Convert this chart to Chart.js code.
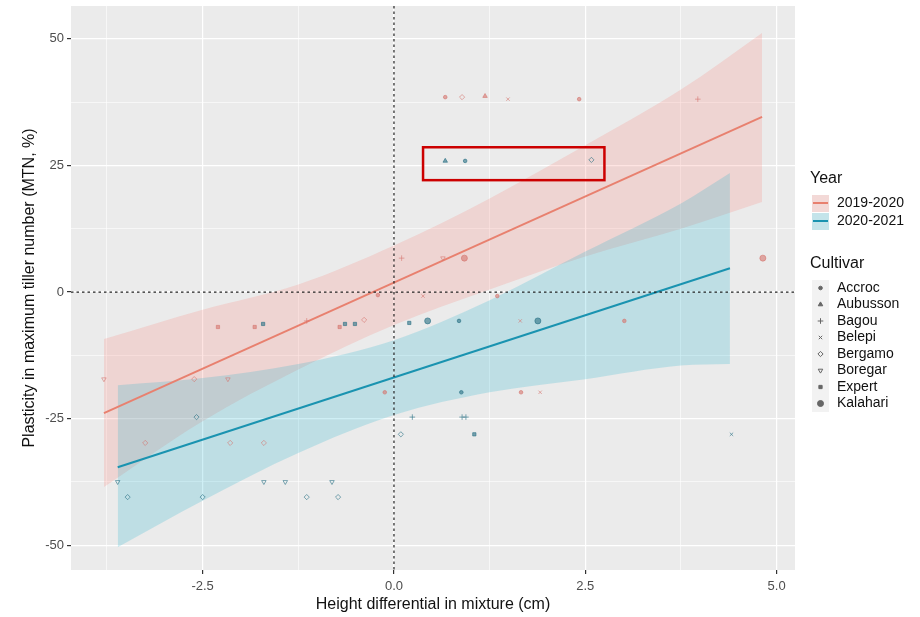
<!DOCTYPE html>
<html>
<head>
<meta charset="utf-8">
<script src="https://cdn.jsdelivr.net/npm/chart.js@4.4.1/dist/chart.umd.min.js"></script>
<style>
  body { margin: 0; background: #fff; }
  #plot { display: block; }
</style>
</head>
<body>
<canvas id="plot" width="920" height="617"></canvas>
<script>
// legend groups
const years = ['2019-2020', '2020-2021'];
const cultivars = ['Accroc', 'Aubusson', 'Bagou', 'Belepi', 'Bergamo', 'Boregar', 'Expert', 'Kalahari'];

// points, 2019-2020
const x2019 = [0.67, 0.89, 1.19, 1.49, 2.42, 3.97, 0.10, 0.64, 0.92, 4.82, -0.21, 0.38, 1.35,
  -2.30, -1.82, -1.14, -0.71, -0.39, -3.79, -2.61, -2.17, -3.25, -2.14, -1.70, 1.65, 3.01, 1.66, 1.91, -0.12];
const y2019 = [38.5, 38.5, 38.7, 38.1, 38.1, 38.1, 6.7, 6.7, 6.7, 6.7, -0.6, -0.8, -0.8,
  -6.9, -6.9, -5.7, -6.9, -5.5, -17.2, -17.2, -17.2, -29.8, -29.8, -29.8, -5.7, -5.7, -19.8, -19.8, -19.8];
const cv2019 = ['Accroc', 'Bergamo', 'Aubusson', 'Belepi', 'Accroc', 'Bagou', 'Bagou', 'Boregar', 'Kalahari', 'Kalahari', 'Accroc', 'Belepi', 'Accroc',
  'Expert', 'Expert', 'Bagou', 'Expert', 'Bergamo', 'Boregar', 'Bergamo', 'Boregar', 'Bergamo', 'Bergamo', 'Bergamo', 'Belepi', 'Accroc', 'Accroc', 'Belepi', 'Accroc'];

// points, 2020-2021
const x2020 = [0.67, 0.93, 2.58, -1.71, -0.64, -0.51, 0.20, 0.44, 1.88, 0.85,
  -2.58, 0.24, 0.89, 0.94, 0.09, 1.05, 4.41, 0.88, -3.61, -1.70, -1.42, -0.81, -3.48, -2.50, -1.14, -0.73];
const y2020 = [25.9, 25.9, 26.1, -6.3, -6.3, -6.3, -6.1, -5.7, -5.7, -5.7,
  -24.7, -24.7, -24.7, -24.7, -28.1, -28.1, -28.1, -19.8, -37.5, -37.5, -37.5, -37.5, -40.5, -40.5, -40.5, -40.5];
const cv2020 = ['Aubusson', 'Accroc', 'Bergamo', 'Expert', 'Expert', 'Expert', 'Expert', 'Kalahari', 'Kalahari', 'Accroc',
  'Bergamo', 'Bagou', 'Bagou', 'Bagou', 'Bergamo', 'Expert', 'Belepi', 'Accroc', 'Boregar', 'Boregar', 'Boregar', 'Boregar', 'Bergamo', 'Bergamo', 'Bergamo', 'Bergamo'];

// fitted lines
const fitX2019 = [-3.79, 4.81];
const fitY2019 = [-23.9, 34.6];
const fitX2020 = [-3.61, 4.39];
const fitY2020 = [-34.6, 4.7];

// confidence bands
const bandX2019 = [-3.79, -2.5, -1.25, 0, 1.25, 2.5, 3.75, 4.81];
const bandHi2019 = [-9.3, -3.5, 1.5, 9.2, 18.5, 29, 40, 51.2];
const bandLo2019 = [-38.5, -25.5, -15.3, -6.5, 0.5, 7, 12.5, 17.8];
const bandX2020 = [-3.61, -2.5, -1.25, 0, 1.25, 2.5, 3.75, 4.39];
const bandHi2020 = [-18.4, -17, -14.2, -9.5, -1.6, 8, 17.5, 23.5];
const bandLo2020 = [-50.4, -41.2, -31.8, -24.3, -19.8, -17.2, -14.5, -14.2];

// axes
const xGrid = [-3.75, -2.5, -1.25, 0, 1.25, 2.5, 3.75, 5];
const xLabels = [-2.5, 0, 2.5, 5];
const yGrid = [-50, -37.5, -25, -12.5, 0, 12.5, 25, 37.5, 50];
const yLabels = [-50, -25, 0, 25, 50];
const xRange = [-4.22, 5.24];
const yRange = [-54.9, 56.5];

// highlighted area (red box)
const boxX = [0.38, 2.75];
const boxY = [22.1, 28.6];

const FONT = "'Liberation Sans', Arial, sans-serif";
const shapes = ['circle', 'triangle', 'cross', 'crossRot', 'rectRot', 'triangle', 'rect', 'circle'];
const shapeRot = [0, 0, 0, 0, 0, 180, 0, 0];
const shapeSize = [1.8, 2.6, 2.8, 2.4, 2.6, 2.6, 2.3, 3.0];
const shapeFilled = [true, true, false, false, false, false, true, true];

const redFill = 'rgba(248,118,109,0.2)';
const blueFill = 'rgba(0,170,200,0.19)';
const redLine = '#E8806F';
const blueLine = '#1A93B0';
const redCol = 'rgba(214,118,112,0.6)';
const blueCol = 'rgba(40,112,132,0.6)';

function pts(xs, ys) {
  return xs.map((x, i) => ({ x: x, y: ys[i] }));
}

function pointDataset(label, xs, ys, cvs, color) {
  const idx = cvs.map(c => cultivars.indexOf(c));
  return {
    label: label,
    data: pts(xs, ys),
    showLine: false,
    order: 0,
    pointStyle: ctx => shapes[idx[ctx.dataIndex]],
    rotation: ctx => shapeRot[idx[ctx.dataIndex]],
    pointRadius: ctx => shapeSize[idx[ctx.dataIndex]],
    pointBorderWidth: 1,
    pointBorderColor: color,
    pointBackgroundColor: ctx => shapeFilled[idx[ctx.dataIndex]] ? color : 'rgba(0,0,0,0)',
    pointHoverRadius: 0
  };
}

function bandDataset(xs, ys, fill, color, order) {
  return {
    data: pts(xs, ys),
    showLine: true,
    borderWidth: 0,
    borderColor: 'rgba(0,0,0,0)',
    pointRadius: 0,
    cubicInterpolationMode: 'monotone',
    fill: fill,
    backgroundColor: color,
    order: order
  };
}

function lineDataset(xs, ys, color) {
  return {
    data: pts(xs, ys),
    showLine: true,
    borderWidth: 2,
    borderColor: color,
    pointRadius: 0,
    fill: false,
    order: 1
  };
}

const panelBg = {
  id: 'panelBg',
  beforeDraw(chart) {
    const a = chart.chartArea;
    const ctx = chart.ctx;
    ctx.save();
    ctx.fillStyle = '#EBEBEB';
    ctx.fillRect(a.left, a.top, a.right - a.left, a.bottom - a.top);
    ctx.restore();
  }
};

const extras = {
  id: 'extras',
  afterDatasetsDraw(chart) {
    const ctx = chart.ctx;
    const xs = chart.scales.x, ys = chart.scales.y;
    const a = chart.chartArea;
    ctx.save();
    // dotted zero lines
    ctx.strokeStyle = '#222';
    ctx.lineWidth = 1.2;
    ctx.setLineDash([2.5, 3]);
    ctx.beginPath();
    const x0 = xs.getPixelForValue(0), y0 = ys.getPixelForValue(0);
    ctx.moveTo(x0, a.top); ctx.lineTo(x0, a.bottom);
    ctx.moveTo(a.left, y0); ctx.lineTo(a.right, y0);
    ctx.stroke();
    ctx.setLineDash([]);
    // red box
    ctx.strokeStyle = '#CC0000';
    ctx.lineWidth = 2.5;
    const l = xs.getPixelForValue(boxX[0]), r = xs.getPixelForValue(boxX[1]);
    const t = ys.getPixelForValue(boxY[1]), b = ys.getPixelForValue(boxY[0]);
    ctx.strokeRect(l, t, r - l, b - t);
    ctx.restore();
  },
  afterDraw(chart) {
    const ctx = chart.ctx;
    ctx.save();
    ctx.textBaseline = 'middle';
    ctx.textAlign = 'left';
    ctx.fillStyle = '#111';
    ctx.font = '16px ' + FONT;
    ctx.fillText('Year', 810, 179);
    const yearFill = [redFill, blueFill];
    const yearLine = [redLine, blueLine];
    years.forEach((yr, i) => {
      const cy = 203 + i * 18;
      ctx.fillStyle = '#F2F2F2';
      ctx.fillRect(812, cy - 8, 17, 17);
      ctx.fillStyle = yearFill[i];
      ctx.fillRect(812, cy - 8, 17, 17);
      ctx.strokeStyle = yearLine[i];
      ctx.lineWidth = 2;
      ctx.beginPath();
      ctx.moveTo(813, cy); ctx.lineTo(828, cy);
      ctx.stroke();
      ctx.fillStyle = '#111';
      ctx.font = '14px ' + FONT;
      ctx.fillText(yr, 837, cy);
    });
    ctx.font = '16px ' + FONT;
    ctx.fillText('Cultivar', 810, 264);
    ctx.fillStyle = '#F2F2F2';
    ctx.fillRect(812, 280, 17, cultivars.length * 16.5);
    cultivars.forEach((cv, i) => {
      const cy = 288 + i * 16.5;
      const opts = {
        pointStyle: shapes[i], rotation: shapeRot[i], radius: shapeSize[i], borderWidth: 1
      };
      ctx.strokeStyle = '#666';
      ctx.fillStyle = shapeFilled[i] ? '#666' : 'rgba(0,0,0,0)';
      ctx.lineWidth = 1;
      if (Chart.helpers && Chart.helpers.drawPoint) {
        Chart.helpers.drawPoint(ctx, opts, 820.5, cy);
      } else {
        ctx.beginPath(); ctx.arc(820.5, cy, 2, 0, Math.PI * 2); ctx.fill();
      }
      ctx.fillStyle = '#111';
      ctx.font = '14px ' + FONT;
      ctx.fillText(cv, 837, cy);
    });
    ctx.restore();
  }
};

new Chart(document.getElementById('plot'), {
  type: 'scatter',
  data: {
    datasets: [
      pointDataset('2019-2020', x2019, y2019, cv2019, redCol),
      pointDataset('2020-2021', x2020, y2020, cv2020, blueCol),
      lineDataset(fitX2019, fitY2019, redLine),
      lineDataset(fitX2020, fitY2020, blueLine),
      bandDataset(bandX2019, bandHi2019, '+1', redFill, 4),
      bandDataset(bandX2019, bandLo2019, false, 'rgba(0,0,0,0)', 4),
      bandDataset(bandX2020, bandHi2020, '+1', blueFill, 3),
      bandDataset(bandX2020, bandLo2020, false, 'rgba(0,0,0,0)', 3)
    ]
  },
  options: {
    responsive: false,
    animation: false,
    devicePixelRatio: 1,
    layout: { padding: { top: 6, right: 125, left: 0, bottom: 0 } },
    plugins: {
      legend: { display: false },
      tooltip: { enabled: false }
    },
    scales: {
      x: {
        type: 'linear',
        min: xRange[0],
        max: xRange[1],
        afterBuildTicks: s => { s.ticks = xGrid.map(v => ({ value: v })); },
        afterFit: s => { s.height = 47; s.paddingLeft = 0; s.paddingRight = 0; },
        border: { display: false },
        grid: {
          color: '#FFFFFF',
          lineWidth: c => xLabels.includes(c.tick.value) ? 1.2 : 0.6,
          tickColor: c => xLabels.includes(c.tick.value) ? '#333' : 'rgba(0,0,0,0)',
          tickLength: 4
        },
        ticks: {
          autoSkip: false,
          maxRotation: 0,
          padding: 5,
          color: '#4D4D4D',
          font: { family: FONT, size: 13 },
          callback: v => xLabels.includes(v) ? v.toFixed(1) : ''
        },
        title: {
          display: true,
          text: 'Height differential in mixture (cm)',
          color: '#111',
          font: { family: FONT, size: 16 },
          padding: { top: 0, bottom: 3 }
        }
      },
      y: {
        type: 'linear',
        min: yRange[0],
        max: yRange[1],
        afterBuildTicks: s => { s.ticks = yGrid.map(v => ({ value: v })); },
        afterFit: s => { s.width = 71; s.paddingTop = 0; s.paddingBottom = 0; },
        border: { display: false },
        grid: {
          color: '#FFFFFF',
          lineWidth: c => yLabels.includes(c.tick.value) ? 1.2 : 0.6,
          tickColor: c => yLabels.includes(c.tick.value) ? '#333' : 'rgba(0,0,0,0)',
          tickLength: 4
        },
        ticks: {
          autoSkip: false,
          padding: 3,
          color: '#4D4D4D',
          font: { family: FONT, size: 13 },
          callback: v => yLabels.includes(v) ? String(v) : ''
        },
        title: {
          display: true,
          text: 'Plasticity in maximum tiller number (MTN, %)',
          color: '#111',
          font: { family: FONT, size: 16 },
          padding: { top: 20, bottom: 0 }
        }
      }
    }
  },
  plugins: [panelBg, extras]
});
</script>
</body>
</html>
